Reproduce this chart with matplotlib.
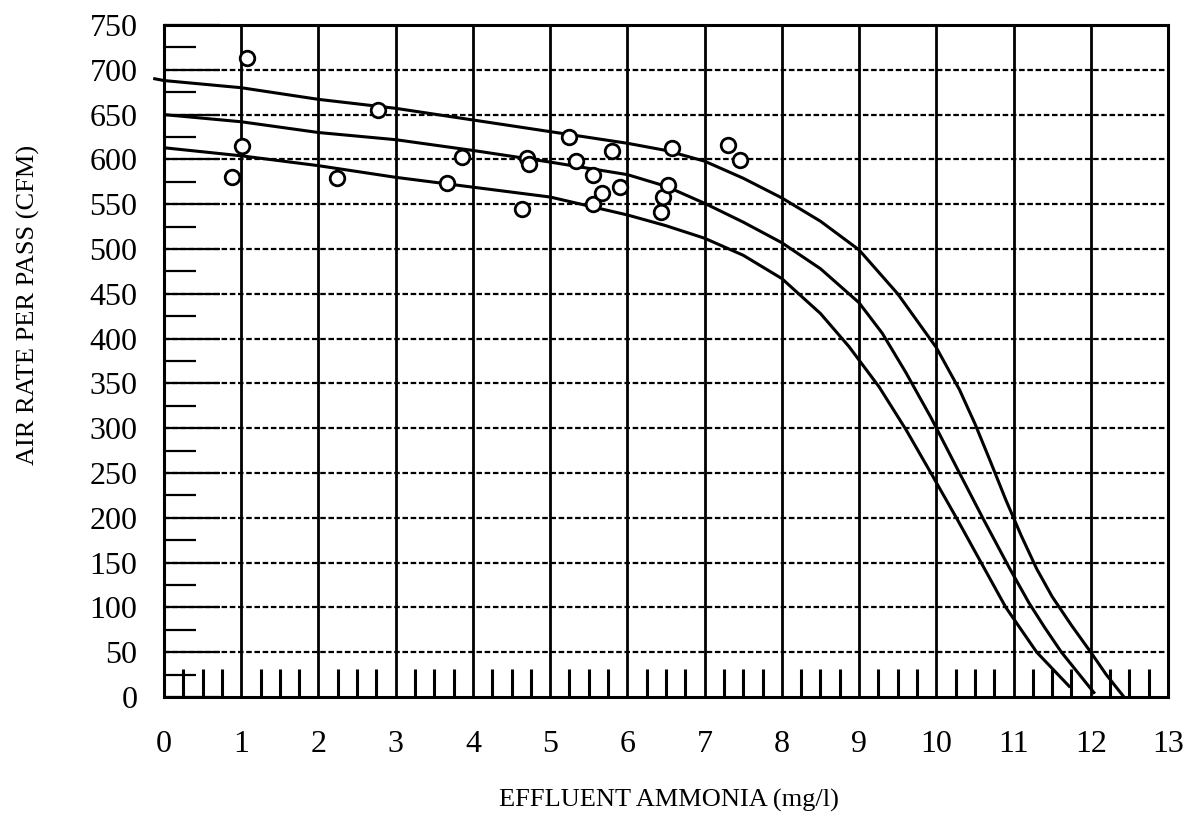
import numpy as np
import matplotlib
matplotlib.use("Agg")
import matplotlib.pyplot as plt

# curves (x = effluent ammonia, y = air rate)
top_x = [-0.12, 0, 1, 2, 3, 4, 5, 6, 6.5, 7, 7.5, 8, 8.5, 9, 9.5, 10, 10.3, 10.5, 10.7, 10.9,
         11.1, 11.3, 11.5, 11.75, 12.0, 12.2, 12.43]
top_y = [690, 688, 680, 667, 657, 644, 631, 618, 610, 598, 579, 557, 531, 499, 450, 390, 343, 305, 263, 220,
         180, 143, 112, 80, 50, 25, 0]

mid_x = [0, 1, 2, 3, 4, 5, 6, 6.5, 7, 7.5, 8, 8.5, 9, 9.3, 9.6, 9.93, 10.3, 10.6, 10.94,
         11.2, 11.4, 11.62, 12.04]
mid_y = [650, 642, 630, 622, 610, 597, 583, 570, 551, 530, 507, 478, 440, 406, 363, 312, 250, 200, 145,
         105, 78, 50, 5]

low_x = [0, 1, 2, 3, 4, 5, 6, 6.5, 7, 7.5, 8, 8.5, 8.87, 9.26, 9.61, 9.93, 10.26, 10.58, 10.9,
         11.3, 11.72]
low_y = [613, 604, 593, 580, 569, 558, 538, 526, 512, 493, 467, 428, 391, 346, 298, 250, 200, 150, 100,
         50, 12]

# measured points
pts_x = [1.07, 1.01, 0.88, 2.24, 2.77, 3.86, 3.67, 4.63, 4.70, 4.72, 5.24, 5.33,
         5.56, 5.56, 5.67, 5.80, 5.91, 6.43, 6.46, 6.52, 6.58, 7.30, 7.46]
pts_y = [713, 615, 580, 579, 655, 603, 574, 545, 602, 595, 625, 598,
         583, 550, 562, 609, 569, 541, 558, 571, 613, 616, 599]

x_ticks = list(range(0, 14))
y_ticks = list(range(0, 751, 50))

plt.rcParams['font.family'] = ['Liberation Serif', 'DejaVu Serif']

fig = plt.figure(figsize=(11.89, 8.36), dpi=100)
ax = fig.add_axes([164 / 1189, 1 - 697 / 836, (1168 - 164) / 1189, (697 - 25) / 836])

ax.set_xlim(0, 13)
ax.set_ylim(0, 750)

# grid: solid verticals, dotted horizontals
for xv in x_ticks[1:-1]:
    ax.axvline(xv, color='black', lw=2, zorder=1)
for yv in y_ticks[1:-1]:
    ax.axhline(yv, color='black', lw=1.6, ls=(0, (2.5, 1.2)), zorder=1)

ax.set_xticks(x_ticks)
ax.set_yticks(y_ticks)
ax.set_xticks(np.arange(0, 13, 0.25), minor=True)
ax.set_yticks(np.arange(0, 750, 25), minor=True)
ax.tick_params(axis='x', which='major', direction='in', length=0, pad=24, labelsize=23)
ax.tick_params(axis='y', which='major', direction='in', length=40, width=1.6, pad=19, labelsize=23)
ax.tick_params(axis='x', which='minor', direction='in', length=20, width=2.2)
ax.tick_params(axis='y', which='minor', direction='in', length=23, width=1.6)
ax.tick_params(top=False, right=False, which='both')
for sp in ax.spines.values():
    sp.set_linewidth(2.2)

ax.plot(top_x, top_y, color='black', lw=2.2, clip_on=False, zorder=3)
ax.plot(mid_x, mid_y, color='black', lw=2.2, zorder=3)
ax.plot(low_x, low_y, color='black', lw=2.2, zorder=3)

ax.scatter(pts_x, pts_y, s=110, facecolors='white', edgecolors='black', linewidths=2, zorder=4)

fig.text(669 / 1189, 1 - 800 / 836, 'EFFLUENT AMMONIA (mg/l)', ha='center', va='center', fontsize=19)
fig.text(28 / 1189, 1 - 305 / 836, 'AIR RATE PER PASS (CFM)', ha='center', va='center',
         rotation=90, fontsize=19)

fig.savefig('out.png', dpi=100)
